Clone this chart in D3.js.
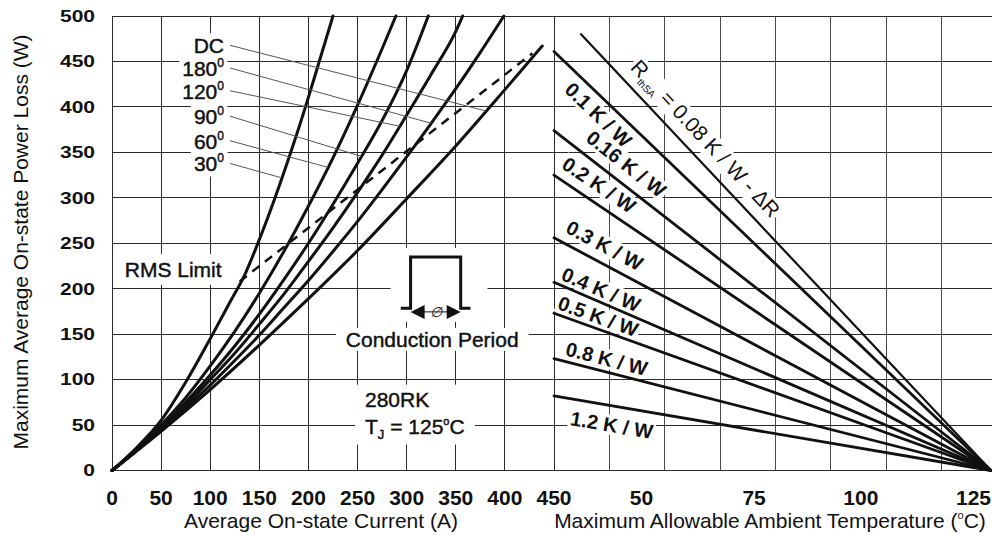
<!DOCTYPE html>
<html>
<head>
<meta charset="utf-8">
<script src="https://cdn.jsdelivr.net/npm/d3@7/dist/d3.min.js"></script>
<style>
html,body{margin:0;padding:0;background:#fff;}
svg{display:block;}
text{font-family:"Liberation Sans",Arial,Helvetica,sans-serif;fill:#111;}
.heavy{stroke:#111;stroke-width:0.45px;}
</style>
</head>
<body>
<svg id="chart" width="992" height="536"></svg>
<script>
// ---------------- data ----------------
const currentTicks = [0, 50, 100, 150, 200, 250, 300, 350, 400, 450];
const powerTicks   = [0, 50, 100, 150, 200, 250, 300, 350, 400, 450, 500];
const tempTicks    = [50, 75, 100, 125];

const curveNames = ["DC", "180", "120", "90", "60", "30"];
const curveDC  = [[0,0],[50,43],[100,89],[150,138],[200,189],[250,242],[300,299],[350,357],[400,419],[438,467]];
const curve180 = [[0,0],[25,22],[50,45],[75,69],[100,94],[125,121],[150,149],[175,179],[200,209],[225,241],[250,274],[275,309],[300,345],[325,382],[350,420],[375,460],[399,500]];
const curve120 = [[0,0],[25,22],[50,46],[75,72],[100,100],[125,129],[150,161],[175,194],[200,230],[225,267],[250,306],[275,347],[300,391],[325,436],[350,483],[357,500]];
const curve90  = [[0,0],[25,22],[50,47],[75,75],[100,105],[125,137],[150,172],[175,210],[200,250],[225,293],[250,338],[275,385],[300,440],[322,500]];
const curve60  = [[0,0],[25,23],[50,50],[75,80],[100,115],[125,153],[150,195],[175,241],[200,291],[225,344],[250,402],[275,464],[289,500]];
const curve30  = [[0,0],[25,25],[50,55],[75,97],[100,145],[120,185],[135,215],[150,254],[166,300],[182,350],[197,400],[211,450],[225,500]];
const rmsLimit = [[130,208],[428,459]];
const leaderCurrent = [381, 325, 293, 254, 220, 173];

const rthLabels     = ["0.1 K / W","0.16 K / W","0.2 K / W","0.3 K / W","0.4 K / W","0.5 K / W","0.8 K / W","1.2 K / W"];
const rthStartTemp  = [28, 28, 28, 28, 28, 28, 28, 28];
const rthStartPower = [461, 374, 325, 256, 207, 173, 123, 82];
const rthsaStartTemp = 34, rthsaStartPower = 480;   // R thSA = 0.08 K/W - ΔR
const convergeTemp = 125, convergePower = 0;

// ---------------- layout ----------------
const W = 992;
const xL = d3.scaleLinear().domain([0, 450]).range([112, 554]);
const xR = d3.scaleLinear().domain([28, 125]).range([554, 991]);
const y  = d3.scaleLinear().domain([0, 500]).range([470.5, 16]);
const gridR = d3.scaleLinear().domain([0, 8]).range([554, 997]);
const px = v => Math.round(v - 0.5) + 0.5;

// label layout (annotation placement)
const curveLabelCurrent = 114;
const curveLabelPower = [459, 434, 409, 381, 354, 329];
const rthLabelTemp   = [33.5, 33.3, 28.2, 29.3, 28.9, 28.2, 30, 32.4];
const rthLabelOffset = [22, -11, -10, -10, -5, -5, -6, 26];
const rthsaLabelTemp = 42.8, rthsaLabelOffset = -12;

const svg = d3.select("#chart");
const gGrid = svg.append("g");
const gBg = svg.append("g");
const gLines = svg.append("g");
const gText = svg.append("g");

function addBg(sel, padX, padY, transform) {
  const b = sel.node().getBBox();
  gBg.append("rect")
    .attr("x", b.x - padX).attr("y", b.y - padY)
    .attr("width", b.width + 2 * padX).attr("height", b.height + 2 * padY)
    .attr("fill", "#fff").attr("transform", transform || null);
}
function interp(arr, I) {
  for (let k = 1; k < arr.length; k++) {
    if (I <= arr[k][0]) {
      const [x0, y0] = arr[k - 1], [x1, y1] = arr[k];
      return y0 + (y1 - y0) * (I - x0) / (x1 - x0);
    }
  }
  return arr[arr.length - 1][1];
}

// ---------------- grid ----------------
powerTicks.forEach(p => gGrid.append("line")
  .attr("x1", 112).attr("x2", W).attr("y1", px(y(p))).attr("y2", px(y(p)))
  .attr("stroke", "#2a2a2a").attr("stroke-width", 1));
currentTicks.forEach(c => gGrid.append("line")
  .attr("x1", px(xL(c))).attr("x2", px(xL(c))).attr("y1", px(y(500))).attr("y2", px(y(0)))
  .attr("stroke", "#2a2a2a").attr("stroke-width", 1));
d3.range(1, 8).forEach(k => gGrid.append("line")
  .attr("x1", px(gridR(k))).attr("x2", px(gridR(k))).attr("y1", px(y(500))).attr("y2", px(y(0)))
  .attr("stroke", "#4a4a4a").attr("stroke-width", 1));

// ---------------- tick labels ----------------
powerTicks.forEach(p => gText.append("text")
  .attr("transform", `translate(95,${y(p) + 5.8}) scale(1,0.78)`)
  .attr("text-anchor", "end").attr("font-size", 21).attr("font-weight", "bold").text(p));
currentTicks.forEach(c => gText.append("text")
  .attr("x", xL(c)).attr("y", 505).attr("text-anchor", "middle")
  .attr("font-size", 21).attr("font-weight", "bold").text(c));
tempTicks.forEach(t => gText.append("text")
  .attr("x", xR(t)).attr("y", 505).attr("text-anchor", "end")
  .attr("font-size", 21).attr("font-weight", "bold").text(t));

// ---------------- axis titles ----------------
gText.append("text").attr("x", 321).attr("y", 528).attr("text-anchor", "middle")
  .attr("font-size", 21).text("Average On-state Current (A)");
const tt = gText.append("text").attr("x", 770).attr("y", 528).attr("text-anchor", "middle").attr("font-size", 21);
tt.append("tspan").text("Maximum Allowable Ambient Temperature (");
tt.append("tspan").attr("font-size", 11).attr("dy", -9).text("o");
tt.append("tspan").attr("dy", 9).text("C)");
gText.append("text").attr("transform", "translate(27.5,242) rotate(-90)").attr("text-anchor", "middle")
  .attr("font-size", 21).text("Maximum Average On-state Power Loss (W)");

// ---------------- left panel curves ----------------
const curves = [curveDC, curve180, curve120, curve90, curve60, curve30];
const line = d3.line().x(d => xL(d[0])).y(d => y(d[1])).curve(d3.curveMonotoneX);
curves.forEach(c => gLines.append("path").attr("d", line(c))
  .attr("fill", "none").attr("stroke", "#111").attr("stroke-width", 3).attr("stroke-linecap", "round"));
gLines.append("path").attr("d", d3.line().x(d => xL(d[0])).y(d => y(d[1]))(rmsLimit))
  .attr("fill", "none").attr("stroke", "#111").attr("stroke-width", 2.5).attr("stroke-dasharray", "9,7");

// curve labels + leaders
curveNames.forEach((n, i) => {
  const t = gText.append("text").attr("class", "heavy").attr("x", xL(curveLabelCurrent)).attr("y", y(curveLabelPower[i]))
    .attr("text-anchor", "end").attr("font-size", 21);
  t.append("tspan").text(n);
  if (n !== "DC") t.append("tspan").attr("font-size", 12).attr("dy", -9).text("0");
  addBg(t, 3, 1);
  const I = leaderCurrent[i];
  gLines.append("line")
    .attr("x1", xL(curveLabelCurrent) + 6).attr("y1", y(curveLabelPower[i]) - 8)
    .attr("x2", xL(I)).attr("y2", y(interp(curves[i], I)))
    .attr("stroke", "#555").attr("stroke-width", 1);
});

// RMS Limit label
const rms = gText.append("text").attr("class", "heavy").attr("x", xL(13)).attr("y", y(213)).attr("font-size", 21).text("RMS Limit");
addBg(rms, 4, 4);

// conduction period icon
const iL = xL(304), iR = xL(355), iT = y(235), iB = y(178.5), sL = xL(294), sR = xL(365), aY = y(174.5);
gBg.append("rect").attr("x", iL - 20).attr("y", iT - 9).attr("width", sR - iL + 37).attr("height", aY - iT + 19).attr("fill", "#fff");
gLines.append("path").attr("d", `M${sL},${iB}H${iL}V${iT}H${iR}V${iB}H${sR}`)
  .attr("fill", "none").attr("stroke", "#111").attr("stroke-width", 3);
gLines.append("line").attr("x1", iL + 12).attr("x2", iR - 12).attr("y1", aY).attr("y2", aY)
  .attr("stroke", "#111").attr("stroke-width", 1);
gLines.append("path").attr("d", `M${iL},${aY}l14,-7v14z`).attr("fill", "#111");
gLines.append("path").attr("d", `M${iR},${aY}l-14,-7v14z`).attr("fill", "#111");
const phi = gText.append("text").attr("x", (iL + iR) / 2).attr("y", aY + 5).attr("text-anchor", "middle")
  .attr("font-size", 14).attr("font-style", "italic").text("\u2205");
addBg(phi, 1, -3);

const cp = gText.append("text").attr("class", "heavy").attr("x", xL(326)).attr("y", y(136)).attr("text-anchor", "middle")
  .attr("font-size", 21).text("Conduction Period");
addBg(cp, 10, 0);

const dev = gText.append("g").attr("class", "heavy");
dev.append("text").attr("x", xL(257.6)).attr("y", y(70.2)).attr("font-size", 21).text("280RK");
const tj = dev.append("text").attr("x", xL(257.6)).attr("y", y(40.7)).attr("font-size", 21);
tj.append("tspan").text("T");
tj.append("tspan").attr("font-size", 13).attr("dy", 5).text("J");
tj.append("tspan").attr("dy", -5).text(" = 125");
tj.append("tspan").attr("font-size", 11).attr("dy", -9).text("o");
tj.append("tspan").attr("dy", 9).text("C");
addBg(dev, 10, 3);

// ---------------- right panel ----------------
function rightLine(t0, p0, labelT, off, sw, build) {
  const x0 = xR(t0), y0 = y(p0), x1 = xR(convergeTemp), y1 = y(convergePower);
  gLines.append("line").attr("x1", x0).attr("y1", y0).attr("x2", x1).attr("y2", y1)
    .attr("stroke", "#111").attr("stroke-width", sw).attr("stroke-linecap", "round");
  const th = Math.atan2(y1 - y0, x1 - x0);
  const fx = xR(labelT), fy = y0 + (fx - x0) * (y1 - y0) / (x1 - x0);
  const bx = fx - off * Math.sin(th), by = fy + off * Math.cos(th);
  const tr = `translate(${bx},${by}) rotate(${th * 180 / Math.PI})`;
  const t = gText.append("text").attr("transform", tr).attr("font-size", 20);
  build(t);
  addBg(t, 2, -1, tr);
}
rthLabels.forEach((lab, i) => rightLine(rthStartTemp[i], rthStartPower[i], rthLabelTemp[i], rthLabelOffset[i], 2.8,
  t => t.attr("font-weight", "bold").text(lab)));
rightLine(rthsaStartTemp, rthsaStartPower, rthsaLabelTemp, rthsaLabelOffset, 2.2, t => {
  t.attr("font-size", 21);
  t.append("tspan").text("R");
  t.append("tspan").attr("font-size", 10).attr("dy", 5).text("thSA");
  t.append("tspan").attr("dy", -5).text(" = 0.08 K / W - \u0394R");
});
</script>
</body>
</html>
